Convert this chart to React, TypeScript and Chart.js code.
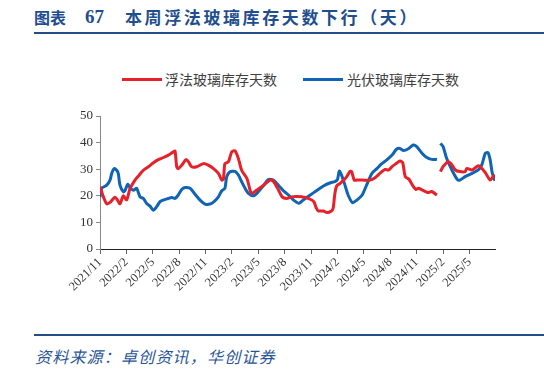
import React, { useEffect, useRef } from "react";
import { Chart, registerables } from "chart.js";

Chart.register(...registerables);

// x positions are months since 2021/11 (0 = 2021/11)
const tickLabels = [
  "2021/11", "2022/2", "2022/5", "2022/8", "2022/11", "2023/2", "2023/5", "2023/8",
  "2023/11", "2024/2", "2024/5", "2024/8", "2024/11", "2025/2", "2025/5",
];

const floatX = [
  0, 0.4, 0.76, 1.14, 1.7, 1.97, 2.27, 2.65, 3.03, 3.41, 3.98, 4.36, 4.93, 5.5, 6.07, 6.63,
  7.2, 7.77, 8.34, 8.53, 8.72, 8.9, 9.29, 9.78, 10.05, 10.42, 11, 11.75, 12.3, 12.9, 13.46,
  13.84, 14.03, 14.2, 14.6, 14.97, 15.35, 15.73, 16.1, 16.7, 17.06, 17.25, 17.8, 18.6, 19.33,
  19.7, 20.3, 20.7, 21.2, 21.8, 22.4, 23.3, 23.9, 24.3, 24.6, 24.8, 25.4, 25.8, 26.3, 26.5,
  26.7, 26.9, 27.3, 27.7, 28.05, 28.4, 28.6, 28.9, 29.2, 29.8, 30.7, 31.3, 31.8, 32.4, 32.8,
  33.2, 33.7, 34.1, 34.4, 34.7, 35.1, 35.5, 35.9, 36.2, 36.6, 37, 37.3, 37.7, 38.3, 38.5,
  38.7, 39, 39.6, 40, 40.4, 40.9, 41.5, 41.7, 42.3, 42.9, 43.2, 43.8, 44.35, 44.7, 44.9,
];
const floatDays = [
  23.4, 19.5, 17, 17.5, 19.5, 18.5, 17, 20, 18.5, 22.7, 25.9, 27.4, 29.6, 30.9, 32.4, 33.6,
  34.4, 35.3, 36.5, 36.8, 30.9, 30.2, 31.5, 33.6, 32.8, 30.9, 30.9, 32.1, 31.5, 30.2, 28.4,
  25.9, 26.3, 32.1, 32.8, 36.5, 36.9, 34, 29.6, 26.5, 22.1, 20.9, 22.1, 24, 25.9,
  25.5, 22.1, 19.6, 19, 19.6, 19.7, 19.4, 18.7, 17.8, 15.3, 14.3, 14.3, 13.7, 14.3, 15.3,
  20.9, 23.7, 24.7, 25.9, 27.2, 29.1, 29.1, 25.9, 25.9, 25.9, 25.9, 26.9, 28.4, 29.9, 29.7,
  31, 32.2, 33.1, 32.5, 27.2, 26.3, 24.1, 22.4, 22.8, 22.2, 21.6, 21.2, 21.6, 20.3, null,
  29.1, 31, 32.8, 31.6, 29.7, 29.1, 29.1, 30.3, 29.7, 31.2, 31, 28.7, 25.9, 27.2, 27.8,
];

const pvX = [
  0, 0.19, 0.76, 1.14, 1.33, 1.59, 1.9, 2.08, 2.27, 2.65, 2.84, 3.15, 3.41, 3.79, 4.17, 4.55,
  4.93, 5.31, 5.69, 6.07, 6.44, 6.82, 7.2, 7.77, 8.15, 8.53, 8.9, 9.29, 9.67, 10.24, 10.8,
  11.37, 11.94, 12.51, 12.96, 13.46, 13.84, 14.2, 14.4, 14.78, 15.35, 15.73, 16.1, 16.49,
  16.87, 17.44, 18, 18.57, 19.14, 19.71, 20.28, 20.85, 21.42, 22, 22.6, 23.1, 23.9, 24.6,
  25.4, 26.2, 26.7, 27, 27.2, 27.5, 27.9, 28.2, 28.7, 29.2, 29.8, 30.3, 30.9, 31.5, 32,
  32.6, 33.2, 33.7, 34.1, 34.5, 35.1, 35.6, 36, 36.6, 37.1, 37.7, 38.3, 38.5, 38.7, 39,
  39.4, 40, 40.6, 40.9, 41.5, 42.3, 43, 43.4, 43.8, 44.1, 44.35, 44.6, 44.9,
];
const pvDays = [
  19.5, 22.8, 24, 25.9, 28.4, 30.2, 29.6, 28.4, 24, 21.5, 22, 24.3, 23.1, 22.1, 22.8, 19.6,
  19, 17.1, 16.1, 14.6, 15.9, 17.8, 18.4, 19, 19.4, 19, 20.3, 22.4, 23.1, 22.8, 20.6,
  18.4, 16.9, 16.9, 17.8, 19.6, 21.9, 22.8, 27.1, 29, 29.2, 27.8, 25.3, 22.8,
  20.9, 20, 21.5, 23.8, 26.1, 25.9, 24, 21.9, 20.3, 18.4, 17.2, 18.4, 20.3, 21.9,
  23.7, 24.9, 25.3, 26.2, 29.3, 27.4, 23.4, 20.3, 17.4, 18.4, 20.3, 24, 28.4, 30.3, 32,
  33.5, 35.3, 37.5, 37.8, 37, 37.8, 39.1, 38.5, 36, 34.5, 33.7, 33.7, null, 39.7, 38.5,
  34.1, 29.7, 26.2, 25.9, 27.2, 28.4, 29.7, 31.6, 36, 36.2, 33.5, 28.4, 25.7,
];

const seriesNames = ["浮法玻璃库存天数", "光伏玻璃库存天数"];
const RED = "#E8202A";
const BLUE = "#0F64B5";

function ChartCanvas() {
  const ref = useRef<HTMLCanvasElement | null>(null);
  useEffect(() => {
    if (!ref.current) return;
    const mk = (xs: number[], ys: (number | null)[]) => xs.map((x, i) => ({ x, y: ys[i] }));
    const chart = new Chart(ref.current, {
      type: "line",
      data: {
        datasets: [
          {
            label: seriesNames[0],
            data: mk(floatX, floatDays) as any,
            borderColor: RED,
            backgroundColor: RED,
            borderWidth: 3,
            pointRadius: 0,
            tension: 0.25,
            spanGaps: false,
          },
          {
            label: seriesNames[1],
            data: mk(pvX, pvDays) as any,
            borderColor: BLUE,
            backgroundColor: BLUE,
            borderWidth: 3,
            pointRadius: 0,
            tension: 0.25,
            spanGaps: false,
          },
        ],
      },
      options: {
        responsive: false,
        animation: false,
        layout: { padding: { left: 0, right: 49, top: 20, bottom: 0 } },
        plugins: { legend: { display: false }, tooltip: { enabled: false } },
        scales: {
          x: {
            type: "linear",
            min: 0,
            max: 44.9,
            afterBuildTicks: (s: any) => {
              s.ticks = tickLabels.map((_, i) => ({ value: i * 3 }));
            },
            afterFit: (s: any) => {
              s.height = 71;
            },
            ticks: {
              autoSkip: false,
              maxRotation: 45,
              minRotation: 45,
              padding: 1,
              color: "#333",
              font: { family: '"Liberation Serif", serif', size: 12.5 },
              callback: (v: any) => tickLabels[Math.round(Number(v) / 3)] ?? "",
            },
            grid: { display: true, drawOnChartArea: false, drawTicks: true, tickLength: 5, color: "#666" },
            border: { display: true, color: "#222", width: 1 },
          },
          y: {
            min: 0,
            max: 50,
            afterFit: (s: any) => {
              s.width = 100;
            },
            ticks: {
              stepSize: 10,
              padding: 3,
              color: "#333",
              font: { family: '"Liberation Serif", serif', size: 13 },
            },
            grid: { display: true, drawOnChartArea: false, drawTicks: true, tickLength: 4, color: "#888" },
            border: { display: true, color: "#888", width: 1 },
          },
        },
      },
    });
    return () => chart.destroy();
  }, []);
  return (
    <canvas
      ref={ref}
      width={544}
      height={224}
      style={{ position: "absolute", left: 0, top: 96, width: 544, height: 224 }}
    />
  );
}

export default function App() {
  const cjk = '"Noto Sans CJK SC", "Noto Sans", sans-serif';
  const titleBlue = "#1F4E8F";
  return (
    <div style={{ position: "absolute", left: 0, top: 0, width: 544, height: 370, background: "#fff", overflow: "hidden" }}>
      <div style={{ position: "absolute", left: 34, top: 6, height: 22, lineHeight: "22px", fontFamily: cjk, fontWeight: 700, fontSize: 16, color: titleBlue, whiteSpace: "nowrap" }}>
        图表
      </div>
      <div style={{ position: "absolute", left: 85, top: 6, height: 22, lineHeight: "22px", fontFamily: '"Liberation Serif", serif', fontWeight: 700, fontSize: 19, color: titleBlue, whiteSpace: "nowrap" }}>
        67
      </div>
      <div style={{ position: "absolute", left: 125, top: 6, height: 22, lineHeight: "22px", fontFamily: cjk, fontWeight: 700, fontSize: 17, color: titleBlue, whiteSpace: "nowrap", letterSpacing: 2.6 }}>
        本周浮法玻璃库存天数下行（天）
      </div>
      <div style={{ position: "absolute", left: 34, top: 32, width: 510, height: 2, background: "#244F86" }} />

      <div style={{ position: "absolute", left: 122, top: 78, width: 40, height: 3, background: RED }} />
      <div style={{ position: "absolute", left: 165, top: 71, height: 16, lineHeight: "16px", fontFamily: cjk, fontSize: 14, color: "#404040", whiteSpace: "nowrap" }}>
        {seriesNames[0]}
      </div>
      <div style={{ position: "absolute", left: 303, top: 78, width: 40, height: 3, background: BLUE }} />
      <div style={{ position: "absolute", left: 347, top: 71, height: 16, lineHeight: "16px", fontFamily: cjk, fontSize: 14, color: "#404040", whiteSpace: "nowrap" }}>
        {seriesNames[1]}
      </div>

      <ChartCanvas />

      <div style={{ position: "absolute", left: 34, top: 334, width: 510, height: 2, background: "#244F86" }} />
      <div style={{ position: "absolute", left: 35, top: 346, height: 20, lineHeight: "20px", fontFamily: cjk, fontStyle: "italic", fontSize: 16, letterSpacing: 1.2, color: "#2A5596", whiteSpace: "nowrap" }}>
        资料来源：卓创资讯，华创证券
      </div>
    </div>
  );
}
